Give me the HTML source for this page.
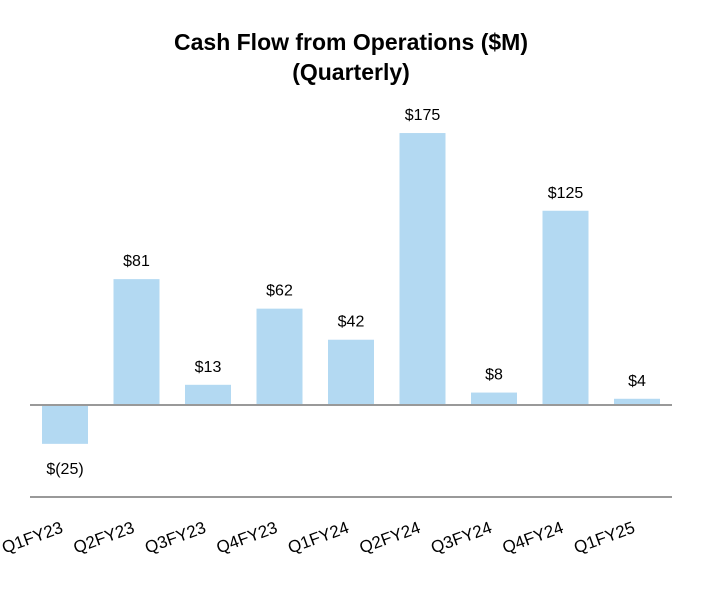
<!DOCTYPE html>
<html><head><meta charset="utf-8"><style>
body{margin:0;background:#fff;}
svg text{font-family:"Liberation Sans",Arial,sans-serif;}
</style></head><body>
<svg width="702" height="590">
<text x="351" y="50" text-anchor="middle" font-size="23" font-weight="bold">Cash Flow from Operations ($M)</text>
<text x="351" y="80" text-anchor="middle" font-size="23" font-weight="bold">(Quarterly)</text>
<g id="bars"></g>
<line x1="30" x2="672" y1="405" y2="405" stroke="#999" stroke-width="2"/>
<line x1="30" x2="672" y1="497" y2="497" stroke="#999" stroke-width="2"/>
</svg>
<script>
const categories=["Q1FY23","Q2FY23","Q3FY23","Q4FY23","Q1FY24","Q2FY24","Q3FY24","Q4FY24","Q1FY25"];
const values=[-25,81,13,62,42,175,8,125,4];
const valueLabels=["$(25)","$81","$13","$62","$42","$175","$8","$125","$4"];
const NS="http://www.w3.org/2000/svg";
const g=document.getElementById('bars');
const zeroY=405, pxPer=1.554;
function xc(i){return 65+i*71.5;}
function y(v){return zeroY-v*pxPer;}
categories.forEach((c,i)=>{
  const v=values[i];
  const r=document.createElementNS(NS,'rect');
  r.setAttribute('x',xc(i)-23);r.setAttribute('width',46);
  r.setAttribute('y',Math.min(y(v),zeroY));r.setAttribute('height',Math.abs(v*pxPer));
  r.setAttribute('fill','#b3d9f2');
  
  
  g.appendChild(r);
  const t=document.createElementNS(NS,'text');
  t.setAttribute('x',xc(i));t.setAttribute('text-anchor','middle');t.setAttribute('font-size','16');
  t.setAttribute('y',v>=0?y(v)-13:y(v)+30);
  t.textContent=valueLabels[i];
  
  
  g.appendChild(t);
  const l=document.createElementNS(NS,'text');
  l.setAttribute('text-anchor','end');l.setAttribute('font-size','17');
  l.setAttribute('transform','translate('+(xc(i)-1)+',532) rotate(-20)');
  l.textContent=c;
  
  
  g.appendChild(l);
});
</script>
</body></html>
